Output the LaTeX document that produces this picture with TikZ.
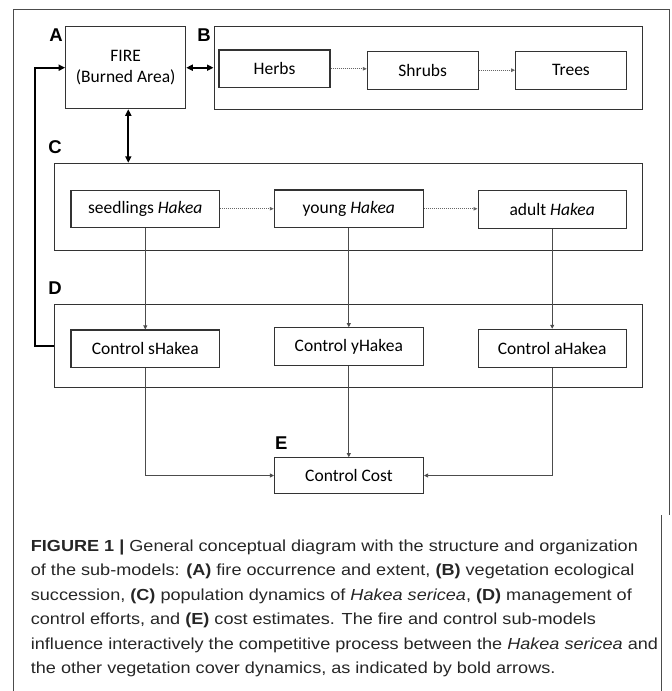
\documentclass[tikz,border=0pt]{standalone}
\usepackage{fontspec}
\setmainfont{Carlito}
\newfontfamily\capfont[FakeStretch=1.13]{Liberation Sans}
\newfontfamily\labfont{Liberation Sans}
\usetikzlibrary{arrows.meta}
\begin{document}
\begin{tikzpicture}[x=1pt,y=-1pt,
  box/.style={draw=black!80, line width=1.1pt, inner sep=0pt, align=center,
    font=\fontsize{17.5}{21}\selectfont},
  grp/.style={draw=black!80, line width=1.1pt, inner sep=0pt},
  lab/.style={inner sep=0pt, font=\labfont\bfseries\fontsize{18.5}{22}\selectfont},
  boldarr/.style={line width=2.2pt, draw=black},
  bhead/.style={-{Triangle[length=6.5pt,width=6pt]}},
  bboth/.style={{Triangle[length=6.5pt,width=6pt]}-{Triangle[length=6.5pt,width=6pt]}},
  thin/.style={draw=black!70, line width=0.8pt, -{Triangle[length=4pt,width=4pt]}},
  dotarr/.style={draw=black!60, line width=0.9pt, dash pattern=on 1pt off 1pt,
    -{Triangle[length=4pt,width=3.5pt]}},
  capline/.style={anchor=base west, inner sep=0pt, text=black!85,
    font=\capfont\fontsize{16}{20}\selectfont},
  frameline/.style={draw=black!70, line width=1pt}
]
\useasboundingbox (0,0) rectangle (672,691);

% outer frame
\draw[frameline] (13.3,691) -- (13.3,9) -- (669.7,9) -- (669.7,515);
\draw[frameline] (661,515) -- (661,691);

% group boxes
\node[grp, minimum width=428.3pt, minimum height=82.6pt] (veg) at (428.2,68) {};
\node[grp, minimum width=588pt, minimum height=87.4pt] (hak) at (348.3,207) {};
\node[grp, minimum width=588pt, minimum height=83.4pt] (ctl) at (348.3,346) {};

% A
\node[box, minimum width=120pt, minimum height=82pt] (fire) at (125.7,67.7) {FIRE\\(Burned Area)};

% B
\node[box, minimum width=111pt, minimum height=37.7pt] (herbs) at (274.5,68.8) {Herbs};
\node[box, minimum width=110.7pt, minimum height=38.3pt] (shrubs) at (422.7,70.2) {Shrubs};
\node[box, minimum width=110.6pt, minimum height=38.3pt] (trees) at (571,70.2) {Trees};

% C
\node[box, minimum width=148.7pt, minimum height=37.3pt] (seed) at (145.3,208.7) {seedlings \textit{Hakea}};
\node[box, minimum width=149pt, minimum height=37.7pt] (young) at (348.8,208.8) {young \textit{Hakea}};
\node[box, minimum width=148.3pt, minimum height=37.6pt] (adult) at (552.2,209.5) {adult \textit{Hakea}};

% D
\node[box, minimum width=148.7pt, minimum height=37.7pt] (cs) at (145.3,348.8) {Control sHakea};
\node[box, minimum width=149pt, minimum height=38pt] (cy) at (348.8,346.7) {Control yHakea};
\node[box, minimum width=148.3pt, minimum height=38pt] (ca) at (552.2,348.3) {Control aHakea};

% E
\node[box, minimum width=149pt, minimum height=35.6pt] (cost) at (349,475.5) {Control Cost};

% labels
\node[lab] (labA) at (56,35) {A};
\node[lab] (labB) at (204,35) {B};
\node[lab] (labC) at (55,146.7) {C};
\node[lab] (labD) at (55,288.3) {D};
\node[lab] (labE) at (281.3,443.3) {E};

% bold arrows
\draw[boldarr, bboth] (fire.east) -- (fire.east -| veg.west);
\draw[boldarr, bboth] ([xshift=2.6pt]fire.south) -- ([xshift=2.6pt]fire.south |- hak.north);
\draw[boldarr, bhead] (ctl.west) -- ++(-18.6,0) |- (fire.west);

% dotted succession arrows
\draw[dotarr] (herbs.east) -- (herbs.east -| shrubs.west);
\draw[dotarr] (shrubs.east) -- (shrubs.east -| trees.west);
\draw[dotarr] (seed.east) -- (seed.east -| young.west);
\draw[dotarr] (young.east) -- (young.east -| adult.west);

% thin arrows
\draw[thin] (seed.south) -- (seed.south |- cs.north);
\draw[thin] (young.south) -- (young.south |- cy.north);
\draw[thin] (adult.south) -- (adult.south |- ca.north);
\draw[thin] (cs.south) |- (cost.west);
\draw[thin] (cy.south) -- (cy.south |- cost.north);
\draw[thin] (ca.south) |- (cost.east);

% caption
\node[capline] (cap1) at (30.7,551) {\textbf{FIGURE 1 |} General conceptual diagram with the structure and organization};
\node[capline] (cap2) at (30.7,575.5) {of the sub-models: \textbf{(A)} fire occurrence and extent, \textbf{(B)} vegetation ecological};
\node[capline] (cap3) at (30.7,600) {succession, \textbf{(C)} population dynamics of \textit{Hakea sericea}, \textbf{(D)} management of};
\node[capline] (cap4) at (30.7,624.5) {control efforts, and \textbf{(E)} cost estimates. The fire and control sub-models};
\node[capline] (cap5) at (30.7,649) {influence interactively the competitive process between the \textit{Hakea sericea} and};
\node[capline] (cap6) at (30.7,673.5) {the other vegetation cover dynamics, as indicated by bold arrows.};
\end{tikzpicture}
\end{document}
